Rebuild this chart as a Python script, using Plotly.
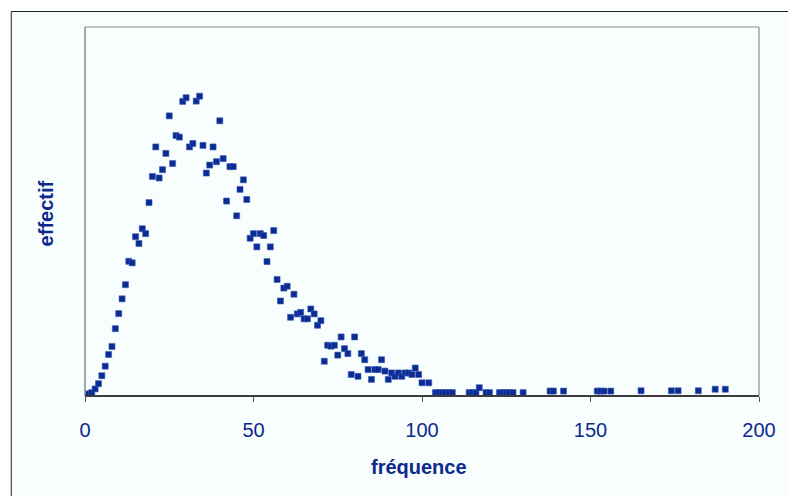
import plotly.graph_objects as go

# fréquence (x) and effectif (y)
frequence = [0, 1, 2, 3, 4, 5, 6, 7, 8, 9, 10, 11, 12, 13, 14, 15, 16, 17, 18, 19,
             20, 21, 22, 23, 24, 25, 26, 27, 28, 29, 30, 31, 32, 33, 34, 35, 36, 37, 38, 39,
             40, 41, 42, 43, 44, 45, 46, 47, 48, 49, 50, 51, 52, 53, 54, 55, 56, 57, 58, 59,
             60, 61, 62, 63, 64, 65, 66, 67, 68, 69, 70, 71, 72, 73, 74, 75, 76, 77, 78, 79,
             80, 81, 82, 83, 84, 85, 86, 87, 88, 89, 90, 91, 92, 93, 94, 95, 96, 97, 98, 99,
             100, 102, 104, 105, 106, 107, 108, 109, 114, 115, 116, 117, 119, 120,
             123, 124, 125, 126, 127, 130, 138, 139, 142, 152, 153, 154, 156, 165,
             174, 176, 182, 187, 190]
effectif = [0.3, 0.7, 1.1, 2.3, 4.0, 6.6, 9.7, 13.5, 16.1, 21.9, 26.8, 31.6, 36.2, 43.8, 43.3,
            51.8, 49.6, 54.4, 52.8, 62.9, 71.4, 81.0, 70.9, 73.6, 78.9, 91.1, 75.6, 84.7, 84.2,
            95.8, 97.0, 81.0, 82.1, 95.9, 97.5, 81.5, 72.5, 75.1, 81.0, 76.2, 89.5, 77.2, 63.4,
            74.6, 74.6, 58.6, 67.2, 70.3, 63.9, 51.3, 52.8, 48.5, 52.8, 52.2, 43.7, 48.5, 53.8,
            37.9, 30.9, 35.1, 35.7, 25.6, 33.1, 26.7, 27.2, 25.1, 25.1, 28.3, 26.7, 23.0, 24.5,
            11.3, 16.5, 16.2, 16.5, 13.3, 19.2, 15.4, 13.8, 7.0, 19.2, 6.4, 13.8, 11.8, 8.6,
            5.4, 8.6, 8.6, 11.8, 8.1, 5.4, 7.5, 6.4, 7.5, 6.4, 7.5, 7.5, 7.0, 9.1, 7.0,
            4.3, 4.3, 1.1, 1.1, 1.1, 1.1, 1.1, 1.1, 1.1, 1.1, 1.1, 2.7, 1.1, 1.1,
            1.1, 1.1, 1.1, 1.1, 1.1, 1.1, 1.6, 1.6, 1.6, 1.6, 1.6, 1.6, 1.6, 1.7,
            1.7, 1.7, 1.7, 2.2, 2.2]
x_ticks = [0, 50, 100, 150, 200]

NAVY = "#0b2a8c"
BG = "#f8fdfe"
FONT = "Liberation Sans, Arial, sans-serif"

W, H = 788, 496
L, R, T, B = 85, 22, 27, 100
pw, ph = W - L - R, H - T - B


def px_x(p):
    return (p - L) / pw


def px_y(p):
    return (H - B - p) / ph


fig = go.Figure()
fig.add_trace(go.Scatter(
    x=frequence, y=effectif, mode="markers",
    marker=dict(symbol="square", size=6, color="#0a2a94",
                line=dict(width=0.6, color="#3a5ab0")),
    hoverinfo="x+y", showlegend=False,
))

shapes = [
    # outer chart border (extends past the right and bottom edges)
    dict(type="rect", xref="paper", yref="paper", x0=px_x(10.5), x1=px_x(810),
         y0=px_y(520), y1=px_y(11.5), line=dict(color="#222222", width=1),
         fillcolor=BG, layer="below"),
    # plot area border: top, right, left grey
    dict(type="line", xref="paper", yref="paper", x0=0, x1=1, y0=1, y1=1,
         line=dict(color="#8a8a8a", width=1.2), layer="above"),
    dict(type="line", xref="paper", yref="paper", x0=1, x1=1, y0=0, y1=1,
         line=dict(color="#8a8a8a", width=1.2), layer="above"),
    dict(type="line", xref="paper", yref="paper", x0=0, x1=0, y0=0, y1=1,
         line=dict(color="#8a8a8a", width=1.5), layer="above"),
    # x axis line (darker)
    dict(type="line", xref="paper", yref="paper", x0=0, x1=1, y0=0, y1=0,
         line=dict(color="#3c3c3c", width=2), layer="above"),
]

fig.update_layout(
    width=W, height=H,
    margin=dict(l=L, r=R, t=T, b=B, pad=0),
    paper_bgcolor="white",
    plot_bgcolor="rgba(0,0,0,0)",
    font=dict(family=FONT, color=NAVY),
    shapes=shapes,
    xaxis=dict(range=[0, 200], tickvals=x_ticks, ticktext=[str(v) for v in x_ticks],
               ticks="outside", ticklen=5, tickwidth=1, tickcolor="#555555",
               showgrid=False, zeroline=False, showline=False,
               tickfont=dict(size=20, color=NAVY, family=FONT),
               ticklabelstandoff=11),
    yaxis=dict(range=[0, 120], showticklabels=False, ticks="", showgrid=False,
               zeroline=False, showline=False),
    annotations=[
        dict(text="<b>fréquence</b>", xref="paper", yref="paper",
             x=px_x(422), y=px_y(467), showarrow=False,
             font=dict(size=20, color=NAVY, family=FONT),
             xanchor="center", yanchor="middle"),
        dict(text="<b>effectif</b>", xref="paper", yref="paper",
             x=px_x(46), y=px_y(213), showarrow=False, textangle=-90,
             font=dict(size=20, color=NAVY, family=FONT),
             xanchor="center", yanchor="middle"),
    ],
)

fig.write_html("out.html")
